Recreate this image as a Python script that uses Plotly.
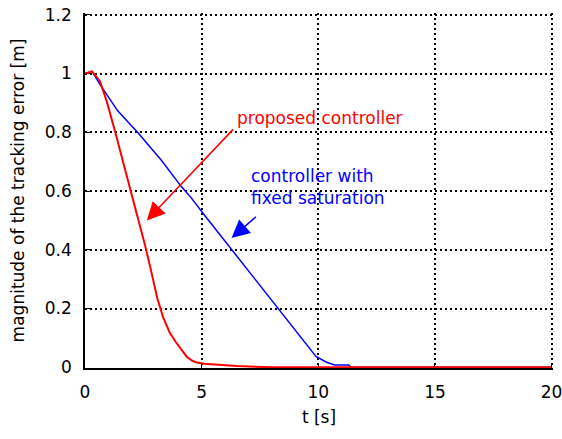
import plotly.graph_objects as go

# Proposed controller (red)
t_proposed = [0, 0.3, 0.64, 0.93, 1.28, 1.62, 2.0, 2.3, 2.56, 2.8, 3.1, 3.35, 3.63, 3.9, 4.06, 4.36, 4.6, 4.8, 5.1, 5.8, 6.5, 8, 20]
e_proposed = [1.0, 1.007, 0.974, 0.906, 0.805, 0.703, 0.59, 0.5, 0.42, 0.34, 0.235, 0.17, 0.118, 0.085, 0.068, 0.036, 0.022, 0.016, 0.012, 0.008, 0.004, 0.0, 0.0]

# Controller with fixed saturation (blue)
t_fixed = [0, 0.3, 0.64, 1.41, 2.27, 3.29, 4.13, 4.57, 5.2, 6.2, 7.2, 8.2, 9.0, 9.9, 10.35, 10.7, 11.3, 11.4, 20]
e_fixed = [1.0, 1.007, 0.963, 0.872, 0.798, 0.703, 0.615, 0.575, 0.51, 0.41, 0.31, 0.21, 0.13, 0.037, 0.017, 0.008, 0.008, 0.0, 0.0]

x_ticks = [0, 5, 10, 15, 20]
y_ticks = [0, 0.2, 0.4, 0.6, 0.8, 1, 1.2]
y_tick_labels = ["0", "0.2", "0.4", "0.6", "0.8", "1", "1.2"]

FONT = "DejaVu Sans"

fig = go.Figure()
fig.add_trace(go.Scatter(x=t_fixed, y=e_fixed, mode="lines",
                         line=dict(color="#0000ff", width=1.5), showlegend=False))
fig.add_trace(go.Scatter(x=t_proposed, y=e_proposed, mode="lines",
                         line=dict(color="#ff0000", width=2), showlegend=False))

fig.add_annotation(x=6.45, y=0.85, xref="x", yref="y", text="proposed controller",
                   showarrow=False, xanchor="left", yanchor="middle",
                   font=dict(family=FONT, size=17, color="#ff0000"))
fig.add_annotation(x=7.05, y=0.612, xref="x", yref="y",
                   text="controller with<br>fixed saturation",
                   showarrow=False, xanchor="left", yanchor="middle", align="left",
                   font=dict(family=FONT, size=17, color="#0000ff"))

fig.add_annotation(x=2.65, y=0.50, ax=6.41, ay=0.815, xref="x", yref="y",
                   axref="x", ayref="y", text="", showarrow=True,
                   arrowhead=2, arrowsize=2.4, arrowwidth=1.5, arrowcolor="#ff0000")
fig.add_annotation(x=6.28, y=0.44, ax=7.39, ay=0.517, xref="x", yref="y",
                   axref="x", ayref="y", text="", showarrow=True,
                   arrowhead=2, arrowsize=2.4, arrowwidth=1.5, arrowcolor="#0000ff")

grid = dict(showgrid=True, gridcolor="black", gridwidth=1.5, griddash="1.5px,3.5px")

fig.update_xaxes(range=[0, 20.06], tickvals=x_ticks, ticks="inside", ticklen=5,
                 tickcolor="black", showline=True, linecolor="black", linewidth=1.5,
                 zeroline=False, layer="below traces", ticklabelstandoff=8,
                 ticklabeloverflow="allow", automargin=False,
                 title=dict(text="t [s]", font=dict(family=FONT, size=17, color="black"), standoff=10),
                 tickfont=dict(family=FONT, size=17, color="black"), **grid)
fig.update_yaxes(range=[-0.0025, 1.206], tickvals=y_ticks, ticktext=y_tick_labels,
                 ticks="inside", ticklen=5,
                 tickcolor="black", showline=True, linecolor="black", linewidth=1.5,
                 zeroline=False, layer="below traces", ticklabelstandoff=8,
                 ticklabeloverflow="allow", automargin=False,
                 title=dict(text="magnitude of the tracking error [m]",
                            font=dict(family=FONT, size=17, color="black"), standoff=16),
                 tickfont=dict(family=FONT, size=17, color="black"), **grid)

fig.update_layout(width=562, height=439, plot_bgcolor="white", paper_bgcolor="white",
                  margin=dict(l=85, r=9, t=13, b=71), font=dict(family=FONT))

fig.write_html("out.html")
